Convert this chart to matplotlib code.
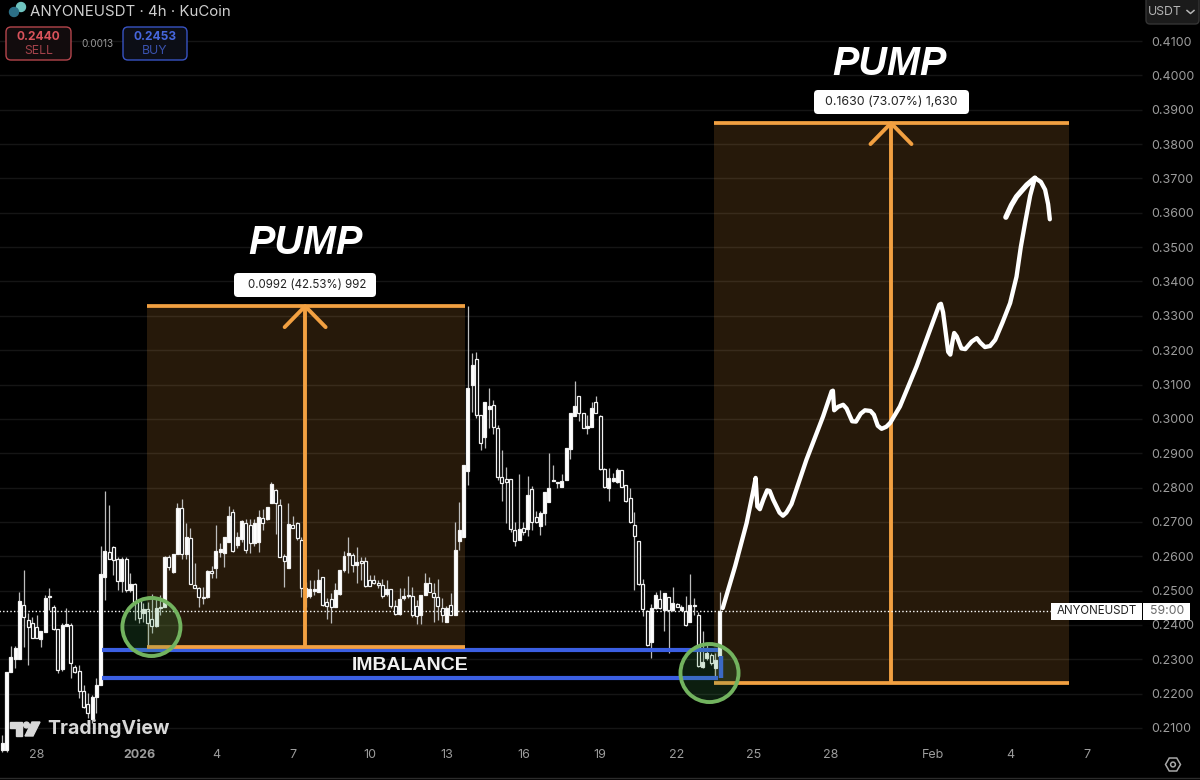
import matplotlib
matplotlib.use('Agg')
import matplotlib.pyplot as plt
from matplotlib.patches import Rectangle, Ellipse, FancyBboxPatch, Polygon, RegularPolygon, Circle

plt.rcParams['font.family'] = ['Inter', 'DejaVu Sans']

# 4h candles
opens = [
    .2036, .2036, .2262, .2301, .2301, .2458, .2414, .2405, .2395, .2360,
    .2380, .2480, .2453, .2387, .2271, .2398, .2400, .2277, .2267, .2209,
    .2169, .2125, .2191, .2225, .2541, .2613, .2628, .2591, .2529, .2591,
    .2502, .2519, .2473, .2436, .2445, .2417, .2397, .2448, .2453, .2599,
    .2555, .2608, .2741, .2608, .2654, .2516, .2509, .2482, .2480, .2556,
    .2565, .2613, .2610, .2642, .2730, .2633, .2649, .2696, .2691, .2639,
    .2642, .2710, .2707, .2754, .2793, .2749, .2601, .2565, .2691, .2696,
    .2647, .2482, .2483, .2500, .2497, .2541, .2468, .2476, .2452, .2490,
    .2560, .2604, .2604, .2575, .2585, .2585, .2531, .2531, .2523, .2517,
    .2490, .2504, .2454, .2432, .2478, .2483, .2485, .2454, .2429, .2488,
    .2522, .2494, .2481, .2449, .2410, .2458, .2429, .2643, .2657, .2849,
    .3099, .3173, .3011, .2946, .3029, .3040, .2973, .2832, .2825, .2825,
    .2675, .2648, .2682, .2679, .2795, .2713, .2688, .2727, .2759, .2819,
    .2815, .2801, .2822, .2912, .3008, .3067, .3016, .2973, .2977, .3048,
    .3008, .2853, .2798, .2819, .2817, .2851, .2807, .2771, .2691, .2645,
    .2519, .2442, .2349, .2448, .2475, .2444, .2480, .2444, .2460, .2444,
    .2442, .2408, .2458, .2429, .2279, .2303, .2313, .2274, .2310,
]
highs = [
    .2080, .2264, .2339, .2339, .2497, .2560, .2434, .2424, .2429, .2382,
    .2487, .2507, .2458, .2387, .2405, .2448, .2405, .2283, .2283, .2225,
    .2201, .2196, .2245, .2630, .2791, .2749, .2630, .2599, .2599, .2599,
    .2550, .2521, .2473, .2463, .2468, .2489, .2477, .2487, .2601, .2604,
    .2608, .2754, .2768, .2696, .2683, .2579, .2511, .2511, .2560, .2572,
    .2691, .2638, .2657, .2746, .2739, .2671, .2705, .2707, .2707, .2707,
    .2735, .2739, .2744, .2817, .2795, .2766, .2608, .2756, .2717, .2701,
    .2657, .2526, .2531, .2531, .2562, .2541, .2478, .2492, .2523, .2560,
    .2614, .2657, .2609, .2626, .2599, .2597, .2546, .2546, .2531, .2533,
    .2531, .2504, .2473, .2507, .2507, .2543, .2510, .2473, .2488, .2551,
    .2541, .2523, .2533, .2478, .2454, .2492, .2701, .2759, .2866, .3329,
    .3193, .3196, .3011, .3050, .3089, .3055, .2982, .2910, .2859, .2825,
    .2701, .2840, .2701, .2834, .2805, .2733, .2733, .2786, .2900, .2866,
    .2815, .2840, .2914, .3018, .3111, .3067, .3016, .3011, .3050, .3067,
    .3011, .2856, .2858, .2842, .2858, .2851, .2807, .2798, .2730, .2645,
    .2533, .2444, .2461, .2497, .2502, .2494, .2480, .2510, .2463, .2458,
    .2484, .2548, .2478, .2439, .2381, .2342, .2318, .2318, .2497,
]
lows = [
    .2030, .2030, .2262, .2274, .2301, .2337, .2283, .2361, .2361, .2335,
    .2380, .2444, .2385, .2259, .2267, .2398, .2245, .2259, .2186, .2157,
    .2128, .2114, .2143, .2225, .2473, .2591, .2545, .2502, .2497, .2497,
    .2497, .2414, .2405, .2410, .2337, .2376, .2395, .2429, .2453, .2560,
    .2550, .2608, .2591, .2591, .2519, .2507, .2451, .2461, .2477, .2536,
    .2536, .2599, .2568, .2642, .2613, .2623, .2642, .2610, .2610, .2630,
    .2613, .2676, .2705, .2754, .2665, .2597, .2511, .2565, .2681, .2647,
    .2482, .2453, .2478, .2488, .2497, .2454, .2417, .2407, .2452, .2488,
    .2555, .2551, .2553, .2522, .2531, .2510, .2512, .2520, .2507, .2478,
    .2483, .2449, .2429, .2429, .2473, .2478, .2424, .2403, .2403, .2488,
    .2497, .2410, .2415, .2410, .2410, .2429, .2429, .2619, .2657, .2808,
    .3021, .3002, .2908, .2914, .2973, .2956, .2822, .2761, .2696, .2672,
    .2631, .2646, .2662, .2659, .2677, .2698, .2662, .2691, .2759, .2819,
    .2798, .2801, .2822, .2882, .3008, .2995, .2973, .2955, .2977, .3016,
    .2851, .2798, .2761, .2817, .2814, .2801, .2759, .2698, .2502, .2516,
    .2426, .2339, .2303, .2446, .2446, .2383, .2319, .2442, .2451, .2442,
    .2397, .2408, .2429, .2279, .2274, .2298, .2284, .2245, .2310,
]
closes = [
    .2056, .2264, .2306, .2332, .2471, .2424, .2395, .2361, .2361, .2382,
    .2477, .2484, .2387, .2269, .2400, .2403, .2290, .2264, .2209, .2162,
    .2145, .2191, .2225, .2547, .2616, .2591, .2589, .2529, .2591, .2502,
    .2518, .2468, .2419, .2446, .2405, .2398, .2448, .2453, .2599, .2570,
    .2608, .2741, .2608, .2657, .2519, .2509, .2480, .2477, .2558, .2550,
    .2616, .2620, .2657, .2717, .2616, .2657, .2703, .2618, .2639, .2698,
    .2713, .2696, .2742, .2810, .2756, .2599, .2587, .2694, .2681, .2652,
    .2507, .2507, .2504, .2504, .2531, .2458, .2454, .2452, .2502, .2560,
    .2601, .2609, .2575, .2582, .2580, .2514, .2514, .2522, .2517, .2483,
    .2505, .2454, .2432, .2476, .2485, .2488, .2429, .2427, .2488, .2522,
    .2497, .2481, .2456, .2429, .2449, .2429, .2617, .2677, .2866, .3089,
    .3157, .3011, .2929, .3048, .3036, .2975, .2832, .2813, .2815, .2679,
    .2643, .2679, .2672, .2779, .2701, .2701, .2725, .2786, .2798, .2822,
    .2812, .2819, .2914, .3018, .3036, .3016, .2974, .2979, .3033, .3018,
    .2853, .2801, .2829, .2829, .2851, .2801, .2761, .2701, .2659, .2519,
    .2446, .2341, .2448, .2487, .2448, .2494, .2444, .2465, .2453, .2453,
    .2400, .2458, .2455, .2281, .2293, .2318, .2288, .2298, .2442,
]

price_ticks = [.21, .22, .23, .24, .25, .26, .27, .28, .29, .30, .31,
               .32, .33, .34, .35, .36, .37, .38, .39, .40, .41]
date_ticks = [8, 32, 50, 68, 86, 104, 122, 140, 158, 176, 194, 218, 236, 254]
date_labels = ['28', '2026', '4', '7', '10', '13', '16', '19', '22', '25', '28', 'Feb', '4', '7']

# hand drawn projection
sketch_x = [168.7, 171.6, 174.3, 175.9, 176.4, 176.8, 177.4, 178.2, 179.1, 179.7, 180.5, 182.0, 182.8, 183.6, 184.8,
            188.3, 192.2, 194.2, 194.5, 194.8, 195.7, 196.9, 197.7, 199.0, 199.9, 201.0, 202.0, 203.3, 204.1, 205.0,
            205.9, 207.0, 207.9, 210.2, 214.1, 219.4, 219.8, 220.3, 221.5, 222.0, 222.5, 222.9, 223.5, 224.6, 225.5,
            227.0, 228.2, 229.0, 230.1, 231.3, 232.5, 234.2, 236.0, 237.5, 238.5, 239.5, 240.7, 241.8]
sketch_y = [.2449, .2571, .2697, .2794, .2828, .2745, .2737, .2765, .2792, .2790, .2765, .2727, .2718, .2727, .2752,
            .2881, .3007, .3080, .3082, .3025, .3035, .3041, .3030, .2993, .2992, .3015, .3025, .3023, .3012, .2980,
            .2971, .2977, .2988, .3036, .3153, .3332, .3335, .3310, .3195, .3187, .3225, .3250, .3240, .3205, .3203,
            .3225, .3235, .3222, .3209, .3212, .3230, .3280, .3337, .3414, .3500, .3570, .3650, .3701]
barb_left_x = [235.0, 236.3, 237.5, 239.9, 241.8]
barb_left_y = [.3587, .3622, .3647, .3681, .3701]
barb_right_x = [241.8, 243.2, 244.2, 244.9, 245.3]
barb_right_y = [.3701, .3690, .3667, .3625, .3581]

# measure boxes: left bar, right bar, low, high, arrow bar
box1 = [33.9, 108.3, .2336, .3328, 70.9]
box2 = [166.6, 249.8, .2231, .3861, 208.1]
imbalance_top = .2327
imbalance_bottom = .2246
last_price = .2441

ORANGE = '#f2a041'
BLUE = '#3b5fe2'
GREEN = '#72b35f'

fig = plt.figure(figsize=(12, 7.8), dpi=100, facecolor='black')
ax = fig.add_axes([0, 0, 1, 1], facecolor='black')
ax.set_xlim(-0.562, 280.47)
ax.set_ylim(.19486, .42194)
ax.set_frame_on(False)

ax.yaxis.tick_right()
ax.set_yticks(price_ticks, ['%.4f' % p for p in price_ticks])
ax.set_xticks(date_ticks, date_labels)
ax.tick_params(axis='y', length=0, pad=-35, labelsize=9, labelcolor='#9c9c9c')
ax.tick_params(axis='x', length=0, pad=-22, labelsize=9, labelcolor='#9c9c9c')
ax.get_xticklabels()[1].set_fontweight('bold')

ax.hlines(price_ticks, -1, 266.9, color='#151515', lw=1, zorder=0)

for left, right, low, high, mid in [box1, box2]:
    ax.add_patch(Rectangle((left, low), right - left, high - low, facecolor=ORANGE, alpha=0.16, lw=0, zorder=1))

x = list(range(len(opens)))
ax.vlines(x, lows, highs, color='#bdbdbd', lw=0.9, zorder=2)
bottoms = [min(o, c) for o, c in zip(opens, closes)]
heights = [abs(o - c) for o, c in zip(opens, closes)]
faces = ['white' if c >= o else 'black' for o, c in zip(opens, closes)]
ax.bar(x, heights, bottom=bottoms, width=0.7, color=faces, edgecolor='#f2f2f2', lw=0.9, zorder=3)

ax.hlines([imbalance_top, imbalance_bottom], 23.4, 167.5, color=BLUE, lw=3, zorder=4)
ax.vlines(168.4, imbalance_bottom, opens[-1], color=BLUE, lw=3.2, zorder=4)

for left, right, low, high, mid in [box1, box2]:
    ax.hlines([low, high], left, right, color=ORANGE, lw=2.7, zorder=5)
    ax.vlines(mid, low, high, color=ORANGE, lw=2.8, zorder=5)
    ax.plot([mid - 4.8, mid, mid + 4.8], [high - .0061, high, high - .0061], color=ORANGE, lw=2.8,
            solid_capstyle='round', zorder=5)

ax.hlines(last_price, -1, 246, color='white', lw=1, linestyles=(0, (1, 1.6)), zorder=6)

ax.plot(sketch_x, sketch_y, color='white', lw=3.1, solid_joinstyle='round', solid_capstyle='round', zorder=7)
ax.plot(barb_left_x, barb_left_y, color='white', lw=3.8, solid_joinstyle='round', solid_capstyle='round', zorder=7)
ax.plot(barb_right_x, barb_right_y, color='white', lw=3.1, solid_joinstyle='round', solid_capstyle='round', zorder=7)

for cx, cy in [(34.9, .2394), (165.6, .2260)]:
    ax.add_patch(Ellipse((cx, cy), 13.6, .0169, facecolor=(0.25, 0.6, 0.3, 0.2), edgecolor=GREEN, lw=2.8, zorder=8))

# interface overlay, in screen pixels
ui = fig.add_axes([0, 0, 1, 1], facecolor='none')
ui.set_xlim(0, 1200)
ui.set_ylim(780, 0)
ui.axis('off')

def rbox(x0, y0, x1, y1, face, edge='none', r=3, lw=1):
    ui.add_patch(FancyBboxPatch((x0 + r, y0 + r), x1 - x0 - 2 * r, y1 - y0 - 2 * r,
                                boxstyle='round,pad=%s,rounding_size=%s' % (r, r),
                                facecolor=face, edgecolor=edge, lw=lw))

def label(px, py, s, size=9, color='white', ha='center', **kw):
    ui.text(px, py, s, fontsize=size, color=color, ha=ha, va='center', **kw)

ui.plot([0, 1200], [778, 778], color='#2b2b2b', lw=1)

# header
ui.add_patch(Circle((21, 7), 4.5, color='#6fc4c0'))
ui.add_patch(Circle((14, 12), 4.5, color='#2c6f86'))
label(30, 12, 'ANYONEUSDT · 4h · KuCoin', size=10.8, color='#cfcfcf', ha='left')
rbox(6, 27, 71, 60, '#120c0d', '#b4454c', r=5)
label(38.5, 37.5, '0.2440', size=8.6, color='#d9535b', fontweight='bold')
label(38.5, 51, 'SELL', size=8.8, color='#a2424a')
label(97, 44, '0.0013', size=7.2, color='#9a9a9a')
rbox(123, 27, 187, 60, '#0c0e16', '#3853c2', r=5)
label(155, 37.5, '0.2453', size=8.6, color='#4666dc', fontweight='bold')
label(155, 51, 'BUY', size=8.8, color='#3a52ad')

rbox(1146, -4, 1199, 24, '#1b1b1b', '#343434', r=4)
label(1165, 12, 'USDT', size=8.8, color='#b5b5b5')
ui.plot([1187, 1190.5, 1194], [10.5, 13.5, 10.5], color='#b5b5b5', lw=1.1)

# measure labels
label(305, 243, 'PUMP', size=28.5, fontweight='bold', fontstyle='italic', family='Liberation Sans')
label(889, 64, 'PUMP', size=28.5, fontweight='bold', fontstyle='italic', family='Liberation Sans')
rbox(234, 273, 376, 297, 'white', r=4)
label(307, 285, '0.0992 (42.53%) 992', size=8.3, color='#222222')
rbox(814, 90, 969, 114, 'white', r=4)
label(891, 102, '0.1630 (73.07%) 1,630', size=8.9, color='#222222')
label(410, 665, 'IMBALANCE', size=14, fontweight='bold', family='Liberation Sans', color='#f0f0f0')

# price tag
ui.add_patch(Rectangle((1051, 603), 91, 17, facecolor='white', lw=0))
ui.add_patch(Rectangle((1143, 603), 47, 17, facecolor='white', lw=0))
label(1096.5, 611.5, 'ANYONEUSDT', size=8.3, color='#222222')
label(1167.5, 611.5, '59:00', size=8.8, color='#6a6a6a')

# logo and settings
ui.add_patch(Polygon([(10, 722), (22, 722), (22, 736), (16, 736), (16, 728), (10, 728)], color='#d8d8d8'))
ui.add_patch(Circle((26.5, 725), 2.9, color='#d8d8d8'))
ui.add_patch(Polygon([(32, 722), (40, 722), (33, 736), (25, 736)], color='#d8d8d8'))
label(47, 729, 'TradingView', size=14, color='#d8d8d8', ha='left', fontweight='bold')
ui.add_patch(RegularPolygon((1173, 764.5), 6, radius=7.5, fill=False, edgecolor='#a8a8a8', lw=1.1, orientation=0.5236))
ui.add_patch(Circle((1173, 764.5), 2.4, fill=False, edgecolor='#a8a8a8', lw=1.1))

fig.savefig('out.png', dpi=100, facecolor='black')
